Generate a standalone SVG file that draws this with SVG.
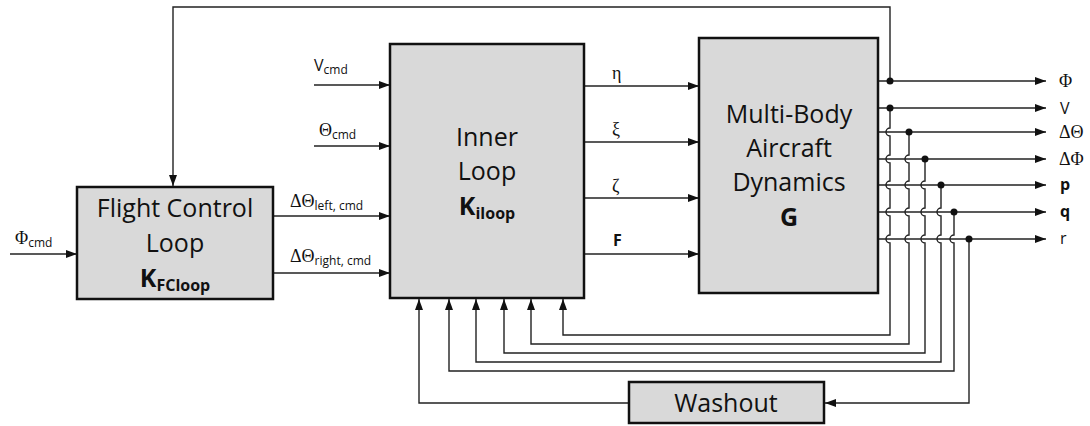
<svg xmlns="http://www.w3.org/2000/svg" width="1090" height="426" viewBox="0 0 1090 426">
<defs>
<style>
.box{fill:#d9d9d9;stroke:#111;stroke-width:2.5}
.bt{font-family:"Open Sans","Liberation Sans",sans-serif;font-size:25px;fill:#111;text-anchor:middle}
.bk{font-family:"Open Sans","Liberation Sans",sans-serif;font-weight:bold;fill:#111}
.ln{fill:none;stroke:#222;stroke-width:1.4}
.lab{font-family:"Open Sans","Liberation Sans",sans-serif;font-size:16px;fill:#111}
.sym{font-family:"Liberation Serif","DejaVu Serif",serif;font-size:18px;fill:#111}
.sub{font-family:"Open Sans","Liberation Sans",sans-serif;font-size:12px;fill:#111}
.dot{fill:#111}
</style>
<marker id="ah" markerWidth="11" markerHeight="8" refX="11" refY="4" orient="auto" markerUnits="userSpaceOnUse">
<path d="M0,0 L11,4 L0,8 z" fill="#111"/>
</marker>
</defs>

<g id="connectors">
<path class="ln" d="M10,254 H77" marker-end="url(#ah)"/>
<path class="ln" d="M273,216 H390" marker-end="url(#ah)"/>
<path class="ln" d="M273,273 H390" marker-end="url(#ah)"/>
<path class="ln" d="M314,85 H390" marker-end="url(#ah)"/>
<path class="ln" d="M314,146 H390" marker-end="url(#ah)"/>
<path class="ln" d="M584,86 H699" marker-end="url(#ah)"/>
<path class="ln" d="M584,142 H699" marker-end="url(#ah)"/>
<path class="ln" d="M584,198 H699" marker-end="url(#ah)"/>
<path class="ln" d="M584,254 H699" marker-end="url(#ah)"/>
<path class="ln" d="M878,81 H1046" marker-end="url(#ah)"/>
<path class="ln" d="M878,108 H1046" marker-end="url(#ah)"/>
<path class="ln" d="M878,132 H1046" marker-end="url(#ah)"/>
<path class="ln" d="M878,159 H1046" marker-end="url(#ah)"/>
<path class="ln" d="M878,185 H1046" marker-end="url(#ah)"/>
<path class="ln" d="M878,212 H1046" marker-end="url(#ah)"/>
<path class="ln" d="M878,239 H1046" marker-end="url(#ah)"/>
<path class="ln" d="M890,81 V7 H173 V186" marker-end="url(#ah)"/>
<path class="ln" d="M890,108 V128 a4,4 0 0 0 0,8 V155 a4,4 0 0 0 0,8 V181 a4,4 0 0 0 0,8 V208 a4,4 0 0 0 0,8 V235 a4,4 0 0 0 0,8 V335 H563 V299" marker-end="url(#ah)"/>
<path class="ln" d="M909,132 V155 a4,4 0 0 0 0,8 V181 a4,4 0 0 0 0,8 V208 a4,4 0 0 0 0,8 V235 a4,4 0 0 0 0,8 V344 H531 V299" marker-end="url(#ah)"/>
<path class="ln" d="M925,159 V181 a4,4 0 0 0 0,8 V208 a4,4 0 0 0 0,8 V235 a4,4 0 0 0 0,8 V353 H504 V299" marker-end="url(#ah)"/>
<path class="ln" d="M941,185 V208 a4,4 0 0 0 0,8 V235 a4,4 0 0 0 0,8 V362 H476 V299" marker-end="url(#ah)"/>
<path class="ln" d="M954,212 V235 a4,4 0 0 0 0,8 V371 H449 V299" marker-end="url(#ah)"/>
<path class="ln" d="M969,239 V403 H825" marker-end="url(#ah)"/>
<path class="ln" d="M629,403 H419 V299" marker-end="url(#ah)"/>
<circle class="dot" cx="890" cy="81" r="3.5"/>
<circle class="dot" cx="890" cy="108" r="3.5"/>
<circle class="dot" cx="909" cy="132" r="3.5"/>
<circle class="dot" cx="925" cy="159" r="3.5"/>
<circle class="dot" cx="941" cy="185" r="3.5"/>
<circle class="dot" cx="954" cy="212" r="3.5"/>
<circle class="dot" cx="969" cy="239" r="3.5"/>
</g>

<g id="labels">
<text x="15" y="244"><tspan class="sym">Φ</tspan><tspan class="sub" dy="3">cmd</tspan></text>
<text x="314" y="71"><tspan class="lab" font-size="17">V</tspan><tspan class="sub" dy="3">cmd</tspan></text>
<text x="319" y="136"><tspan class="sym">Θ</tspan><tspan class="sub" dy="3">cmd</tspan></text>
<text x="290" y="207"><tspan class="sym">ΔΘ</tspan><tspan class="sub" dy="3">left, cmd</tspan></text>
<text x="290" y="262"><tspan class="sym">ΔΘ</tspan><tspan class="sub" dy="3">right, cmd</tspan></text>
<text class="sym" x="612" y="79">η</text>
<text class="sym" x="612" y="135">ξ</text>
<text class="sym" x="612" y="192">ζ</text>
<text class="lab" x="613" y="246" font-weight="bold">F</text>
<text class="sym" x="1059" y="87">Φ</text>
<text class="lab" x="1060" y="114">V</text>
<text class="sym" x="1059" y="138">ΔΘ</text>
<text class="sym" x="1059" y="165">ΔΦ</text>
<text class="lab" x="1060" y="190" font-weight="bold">p</text>
<text class="lab" x="1060" y="217" font-weight="bold">q</text>
<text class="lab" x="1060" y="244">r</text>
</g>

<g id="flight-control">
<rect class="box" x="77" y="187" width="196" height="112"/>
<text class="bt" x="175" y="217">Flight Control</text>
<text class="bt" x="175" y="252">Loop</text>
<text class="bk" x="175" y="287" text-anchor="middle"><tspan font-size="25">K</tspan><tspan font-size="16" dy="4">FCloop</tspan></text>
</g>

<g id="inner-loop">
<rect class="box" x="390" y="44" width="194" height="254"/>
<text class="bt" x="487" y="146">Inner</text>
<text class="bt" x="487" y="180">Loop</text>
<text class="bk" x="487" y="215" text-anchor="middle"><tspan font-size="25">K</tspan><tspan font-size="16" dy="4">iloop</tspan></text>
</g>

<g id="aircraft-dynamics">
<rect class="box" x="699" y="38" width="179" height="255"/>
<text class="bt" x="789" y="123">Multi-Body</text>
<text class="bt" x="789" y="157">Aircraft</text>
<text class="bt" x="789" y="191">Dynamics</text>
<text class="bk" x="789" y="226" text-anchor="middle" font-size="25">G</text>
</g>

<g id="washout">
<rect class="box" x="629" y="382" width="195" height="41"/>
<text class="bt" x="726" y="412">Washout</text>
</g>
</svg>
